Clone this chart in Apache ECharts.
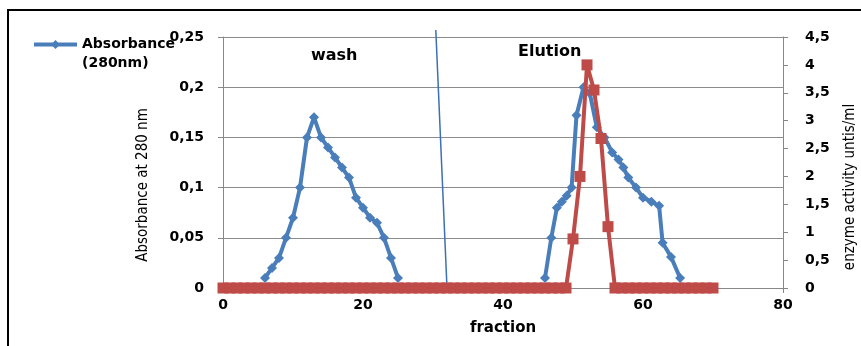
<!DOCTYPE html>
<html>
<head>
<meta charset="utf-8">
<script src="https://cdn.jsdelivr.net/npm/echarts@6/dist/echarts.min.js"></script>
<style>
  html, body { margin: 0; padding: 0; background: #fff; }
  #chart { width: 861px; height: 346px; }
</style>
</head>
<body>
<div id="chart"></div>
<script>
// absorbance, wash peak
const washFraction = [6, 7, 8, 9, 10, 11, 12, 13, 14, 15, 16, 17, 18, 19, 20, 21, 22, 23, 24, 25];
const washAbs = [0.01, 0.02, 0.03, 0.05, 0.07, 0.10, 0.15, 0.17, 0.15, 0.14, 0.13, 0.12, 0.11, 0.09, 0.08, 0.07, 0.065, 0.05, 0.03, 0.01];

// absorbance, elution peak
const elutionFraction = [46.0, 46.9, 47.7, 48.4, 49.1, 49.8, 50.5, 51.5, 52.4, 53.4, 54.5, 55.6, 56.5, 57.2, 57.9, 59.0, 60.0, 61.2, 62.3, 62.8, 64.0, 65.3];
const elutionAbs = [0.01, 0.05, 0.08, 0.086, 0.092, 0.10, 0.172, 0.20, 0.194, 0.16, 0.15, 0.135, 0.128, 0.12, 0.11, 0.10, 0.09, 0.086, 0.082, 0.045, 0.031, 0.01];

// enzyme activity, fractions 0..70
const activity = [
  0, 0, 0, 0, 0, 0, 0, 0, 0, 0,
  0, 0, 0, 0, 0, 0, 0, 0, 0, 0,
  0, 0, 0, 0, 0, 0, 0, 0, 0, 0,
  0, 0, 0, 0, 0, 0, 0, 0, 0, 0,
  0, 0, 0, 0, 0, 0, 0, 0, 0, 0,
  0.88, 2.0, 4.0, 3.55, 2.68, 1.1, 0, 0, 0, 0,
  0, 0, 0, 0, 0, 0, 0, 0, 0, 0,
  0
];

// hand drawn wash / elution divider
const dividerFraction = [30.4, 32.0];
const dividerAbs = [0.257, 0];

const BLUE = '#4A7EBB';
const RED = '#BE4B48';
const FONT = 'DejaVu Sans';
const NARROW = '"Liberation Sans Narrow", "DejaVu Sans Condensed", sans-serif';

const comma = v => String(parseFloat(v.toFixed(2))).replace('.', ',');
const pairs = (xs, ys) => xs.map((x, i) => [x, ys[i]]);

const chart = echarts.init(document.getElementById('chart'));

chart.setOption({
  animation: false,
  textStyle: { fontFamily: FONT },
  grid: { left: 223, right: 78, top: 37, bottom: 58, outerBoundsMode: 'none' },
  legend: {
    data: ['Absorbance (280nm)'],
    left: 32,
    top: 16,
    padding: 0,
    itemWidth: 43,
    itemHeight: 11,
    lineStyle: { width: 4 },
    // blank first line keeps the icon level with "Absorbance"
    formatter: () => ' \nAbsorbance\n(280nm)',
    textStyle: { fontFamily: FONT, fontWeight: 'bold', fontSize: 14, color: '#000', lineHeight: 19 }
  },
  xAxis: {
    type: 'value',
    min: 0,
    max: 80,
    interval: 20,
    name: 'fraction',
    nameLocation: 'middle',
    nameGap: 33,
    nameTextStyle: { fontFamily: FONT, fontWeight: 'bold', fontSize: 15, color: '#000' },
    axisLine: { lineStyle: { color: '#888', width: 1 } },
    axisTick: { show: true, length: 5, lineStyle: { color: '#888' } },
    axisLabel: { fontFamily: FONT, fontWeight: 'bold', fontSize: 14, color: '#000', margin: 10 },
    splitLine: { show: false }
  },
  yAxis: [
    {
      type: 'value',
      position: 'left',
      min: 0,
      max: 0.25,
      interval: 0.05,
      axisLine: { show: true, lineStyle: { color: '#888', width: 1 } },
      axisTick: { show: true, length: 5, lineStyle: { color: '#888' } },
      axisLabel: { fontFamily: FONT, fontWeight: 'bold', fontSize: 14, color: '#000', margin: 19, formatter: comma },
      splitLine: { show: true, lineStyle: { color: '#8c8c8c', width: 1 } }
    },
    {
      type: 'value',
      position: 'right',
      min: 0,
      max: 4.5,
      interval: 0.5,
      axisLine: { show: true, lineStyle: { color: '#888', width: 1 } },
      axisTick: { show: true, length: 5, lineStyle: { color: '#888' } },
      axisLabel: { fontFamily: FONT, fontWeight: 'bold', fontSize: 14, color: '#000', margin: 22, formatter: comma },
      splitLine: { show: false }
    }
  ],
  series: [
    {
      name: 'divider',
      type: 'line',
      yAxisIndex: 0,
      data: pairs(dividerFraction, dividerAbs),
      symbol: 'none',
      clip: false,
      silent: true,
      lineStyle: { color: '#3B6FB6', width: 1.5 },
      z: 1
    },
    {
      name: 'Absorbance (280nm)',
      type: 'line',
      yAxisIndex: 0,
      data: pairs(washFraction, washAbs),
      symbol: 'diamond',
      symbolSize: 10,
      lineStyle: { color: BLUE, width: 4 },
      itemStyle: { color: BLUE },
      z: 2
    },
    {
      name: 'Absorbance (280nm)',
      type: 'line',
      yAxisIndex: 0,
      data: pairs(elutionFraction, elutionAbs),
      symbol: 'diamond',
      symbolSize: 10,
      lineStyle: { color: BLUE, width: 4 },
      itemStyle: { color: BLUE },
      z: 2
    },
    {
      name: 'enzyme activity',
      type: 'line',
      yAxisIndex: 1,
      data: activity.map((v, i) => [i, v]),
      symbol: 'rect',
      symbolSize: 11,
      lineStyle: { color: RED, width: 4 },
      itemStyle: { color: RED },
      z: 3
    }
  ],
  graphic: [
    {
      type: 'polyline',
      shape: { points: [[8, 346], [8, 10], [861, 10]] },
      style: { stroke: '#000', lineWidth: 2, fill: null }
    },
    {
      type: 'text',
      left: 311,
      top: 48,
      style: { text: 'wash', font: 'bold 16px "DejaVu Sans"', fill: '#000' }
    },
    {
      type: 'text',
      left: 518,
      top: 44,
      style: { text: 'Elution', font: 'bold 16px "DejaVu Sans"', fill: '#000' }
    },
    {
      type: 'text',
      x: 143,
      y: 185,
      rotation: Math.PI / 2,
      style: { text: 'Absorbance at 280 nm', font: '15px ' + NARROW, fill: '#000', align: 'center', verticalAlign: 'middle' }
    },
    {
      type: 'text',
      x: 850,
      y: 187,
      rotation: Math.PI / 2,
      style: { text: 'enzyme activity untis/ml', font: '15px ' + NARROW, fill: '#000', align: 'center', verticalAlign: 'middle' }
    }
  ]
});
</script>
</body>
</html>
